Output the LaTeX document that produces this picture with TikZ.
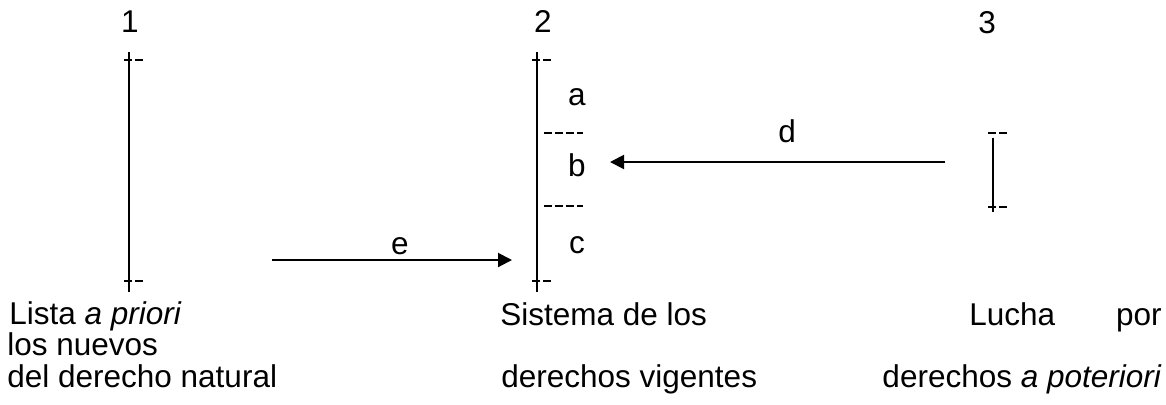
\documentclass[tikz,border=0pt]{standalone}
\usepackage{fontspec}
\setmainfont{Liberation Sans}
\usetikzlibrary{arrows.meta}
\begin{document}
\begin{tikzpicture}[x=0.5pt,y=-0.5pt,
  txt/.style={inner sep=0pt,font=\fontsize{15.75pt}{18pt}\selectfont},
  bar/.style={line width=1pt},
  tick/.style={line width=1pt,dash pattern=on 4pt off 1.5pt},
  arr/.style={line width=1pt,-{Triangle[length=7pt,width=7pt]}}]
\useasboundingbox (0,0) rectangle (1166,404);
% numbers
\node[txt,anchor=base] (n1) at (130,32) {1};
\node[txt,anchor=base] (n2) at (543,32) {2};
\node[txt,anchor=base] (n3) at (987,33) {3};
% column 1
\coordinate (t1) at (129,52);
\coordinate (b1) at (129,292);
\draw[bar] (t1) -- (b1);
\draw[tick] (124,60) -- (143,60);
\draw[tick] (124,281) -- (143,281);
% column 2
\coordinate (t2) at (537,52);
\coordinate (b2) at (537,292);
\draw[bar] (t2) -- (b2);
\draw[tick] (532,60) -- (551,60);
\draw[tick] (532,281) -- (551,281);
\draw[tick] (544,133) -- (583,133);
\draw[tick] (544,206) -- (583,206);
\node[txt,anchor=base] (a) at (577,105) {a};
\node[txt,anchor=base] (b) at (577,176) {b};
\node[txt,anchor=base] (c) at (577,253) {c};
% column 3
\coordinate (t3) at (993,138);
\coordinate (b3) at (993,212);
\draw[bar] (t3) -- (b3);
\draw[tick] (988,133) -- (1007,133);
\draw[tick] (988,207) -- (1007,207);
% arrows
\coordinate (ds) at (945,162);
\coordinate (de) at (610,162);
\draw[arr] (ds) -- (de);
\node[txt,anchor=base] (d) at (787,142) {d};
\coordinate (es) at (272,260);
\coordinate (ee) at (512,260);
\draw[arr] (es) -- (ee);
\node[txt,anchor=base] (e) at (400,254) {e};
% bottom texts
\node[txt,anchor=base west] (l1a) at (9,324) {Lista \textit{a priori}};
\node[txt,anchor=base west] (l1b) at (7,355) {los nuevos};
\node[txt,anchor=base west] (l1c) at (7,387) {del derecho natural};
\node[txt,anchor=base west] (l2a) at (500,325) {Sistema de los};
\node[txt,anchor=base west] (l2c) at (501,387) {derechos vigentes};
\node[txt,anchor=base west] (l3a) at (969,325) {Lucha};
\node[txt,anchor=base east] (l3b) at (1162,325) {por};
\node[txt,anchor=base east] (l3c) at (1162,387) {derechos \textit{a poteriori}};
\end{tikzpicture}
\end{document}
